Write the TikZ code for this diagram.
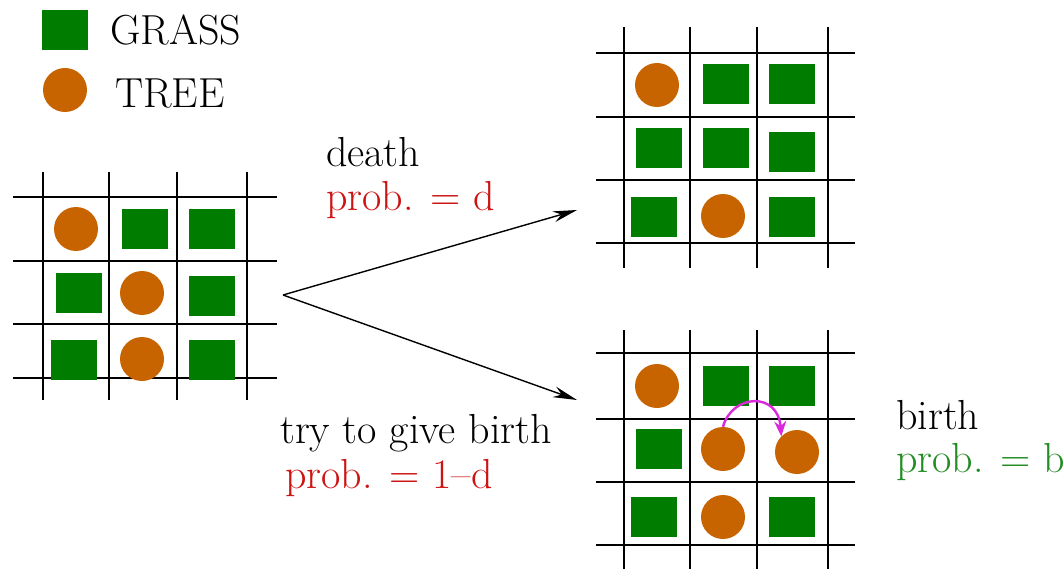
\documentclass[tikz,border=0pt]{standalone}
\usetikzlibrary{arrows.meta}
\definecolor{grass}{RGB}{0,125,0}
\definecolor{tree}{RGB}{200,100,0}
\definecolor{probred}{RGB}{205,20,20}
\definecolor{probgreen}{RGB}{35,140,35}
\definecolor{birthmag}{RGB}{220,40,220}
\tikzset{
  grasscell/.style={fill=grass, minimum width=46pt, minimum height=40pt, inner sep=0pt},
  treecell/.style={circle, fill=tree, minimum size=44pt, inner sep=0pt},
  gridline/.style={line width=1.3pt, black},
  lbl/.style={anchor=base west, inner sep=0pt, font=\fontsize{42}{46}\selectfont},
  move/.style={line width=1.4pt, -{Stealth[length=24pt,width=11pt]}},
}
\begin{document}
\begin{tikzpicture}[x=1pt,y=-1pt]
\useasboundingbox (0,0) rectangle (1064,569);
\clip (0,0) rectangle (1064,569);
% legend
\node[grasscell] (lg) at (65,30) {};
\node[lbl] (lgt) at (110,45) {GRASS};
\node[treecell] (lt) at (65,90) {};
\node[lbl] (ltt) at (115,108) {TREE};
% left grid
\foreach \x in {43,109,177,247} \draw[gridline] (\x,172) -- (\x,400);
\foreach \y in {197,261,324,378} \draw[gridline] (13,\y) -- (277,\y);
\node[treecell] (a11) at (76,229) {};
\node[grasscell] (a12) at (145,229) {};
\node[grasscell] (a13) at (212,229) {};
\node[grasscell] (a21) at (79,293) {};
\node[treecell] (a22) at (142,293) {};
\node[grasscell] (a23) at (212,296) {};
\node[grasscell] (a31) at (74,360) {};
\node[treecell] (a32) at (142,359) {};
\node[grasscell] (a33) at (212,360) {};
% top right grid
\foreach \x in {624,690,757,828} \draw[gridline] (\x,27) -- (\x,268);
\foreach \y in {53,117,180,243} \draw[gridline] (596,\y) -- (855,\y);
\node[treecell] (b11) at (657,85) {};
\node[grasscell] (b12) at (726,84) {};
\node[grasscell] (b13) at (792,84) {};
\node[grasscell] (b21) at (659,148) {};
\node[grasscell] (b22) at (726,148) {};
\node[grasscell] (b23) at (792,152) {};
\node[grasscell] (b31) at (654,217) {};
\node[treecell] (b32) at (723,216) {};
\node[grasscell] (b33) at (792,217) {};
% bottom right grid
\foreach \x in {624,690,757,828} \draw[gridline] (\x,330) -- (\x,569);
\foreach \y in {353,419,482,545} \draw[gridline] (596,\y) -- (855,\y);
\node[treecell] (c11) at (657,386) {};
\node[grasscell] (c12) at (726,386) {};
\node[grasscell] (c13) at (792,386) {};
\node[grasscell] (c21) at (659,449) {};
\node[treecell] (c22) at (723,449) {};
\node[treecell] (c23) at (797,452) {};
\node[grasscell] (c31) at (654,517) {};
\node[treecell] (c32) at (723,517) {};
\node[grasscell] (c33) at (792,517) {};
% birth arrow
\draw[birthmag, line width=2.4pt, -{Stealth[length=15pt,width=12pt]}]
  (c22.north) .. controls (732,394) and (778,391) .. (c23.north west);
% branching arrows
\coordinate (src) at (283,295);
\coordinate (up) at (577,210);
\coordinate (down) at (577,400);
\draw[move] (src) -- (up);
\draw[move] (src) -- (down);
% labels
\node[lbl] (death) at (326,167) {death};
\node[lbl, text=probred] (pd) at (326,211) {prob. = d};
\node[lbl] (try) at (280,443) {try to give birth};
\node[lbl, text=probred] (p1d) at (285,488) {prob. = 1\textendash d};
\node[lbl] (birth) at (896,429) {birth};
\node[lbl, text=probgreen] (pb) at (896,472) {prob. = b};
\end{tikzpicture}
\end{document}
